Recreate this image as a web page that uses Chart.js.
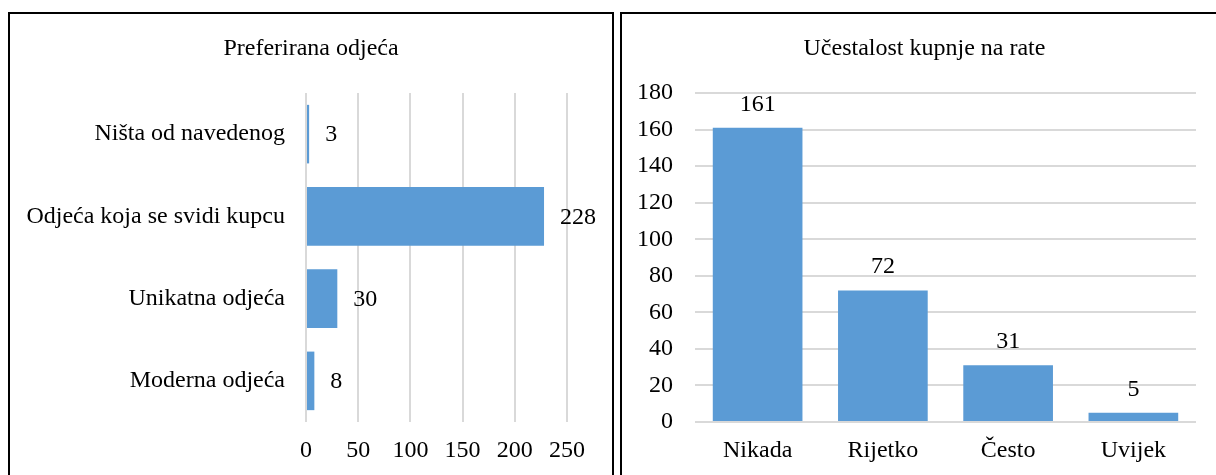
<!DOCTYPE html>
<html>
<head>
<meta charset="utf-8">
<script src="https://cdn.jsdelivr.net/npm/chart.js@4.4.1/dist/chart.umd.min.js"></script>
<style>
  html, body { margin: 0; padding: 0; background: #fff; }
  body { width: 1216px; height: 475px; overflow: hidden; position: relative; font-family: "Liberation Serif", "Times New Roman", serif; }
  .panel { position: absolute; top: 12px; height: 500px; border: 2px solid #000; box-sizing: border-box; background: #fff; }
  #p1 { left: 8px; width: 606px; }
  #p2 { left: 620px; width: 609px; }
  .panel canvas { position: absolute; left: 0; top: 0; }
  .title { position: absolute; left: 0; right: 0; top: 21px; text-align: center; font-size: 24px; line-height: 24px; color: #000; white-space: nowrap; }
</style>
</head>
<body>
<div class="panel" id="p1">
  <canvas id="c1" width="602" height="461"></canvas>
  <div class="title">Preferirana odjeća</div>
</div>
<div class="panel" id="p2">
  <canvas id="c2" width="594" height="461"></canvas>
  <div class="title">Učestalost kupnje na rate</div>
</div>
<script>
// ---- Data ----
const clothingCategories = ['Ništa od navedenog', 'Odjeća koja se svidi kupcu', 'Unikatna odjeća', 'Moderna odjeća'];
const clothingValues = [3, 228, 30, 8];
const clothingTicks = { min: 0, max: 250, step: 50 };

const instalmentCategories = ['Nikada', 'Rijetko', 'Često', 'Uvijek'];
const instalmentValues = [161, 72, 31, 5];
const instalmentTicks = { min: 0, max: 180, step: 20 };

// ---- Styles ----
const FONT = '"Liberation Serif", "Times New Roman", serif';
const BAR = '#5b9bd5';
const GRID = '#d9d9d9';
Chart.defaults.font.family = FONT;
Chart.defaults.font.size = 24;
Chart.defaults.color = '#000';

const valueLabels = {
  id: 'valueLabels',
  afterDatasetsDraw(chart, args, opts) {
    const ctx = chart.ctx;
    const meta = chart.getDatasetMeta(0);
    const data = chart.data.datasets[0].data;
    ctx.save();
    ctx.font = '24px ' + FONT;
    ctx.fillStyle = '#000';
    meta.data.forEach((bar, i) => {
      if (opts.horizontal) {
        ctx.textAlign = 'left';
        ctx.textBaseline = 'middle';
        ctx.fillText(String(data[i]), bar.x + 16, bar.y + 1);
      } else {
        ctx.textAlign = 'center';
        ctx.textBaseline = 'alphabetic';
        ctx.fillText(String(data[i]), bar.x, bar.y - 17);
      }
    });
    ctx.restore();
  }
};

// Left chart: horizontal bars
new Chart(document.getElementById('c1'), {
  type: 'bar',
  data: {
    labels: clothingCategories,
    datasets: [{ data: clothingValues, backgroundColor: BAR, borderWidth: 0, barPercentage: 0.712, categoryPercentage: 1 }]
  },
  options: {
    indexAxis: 'y',
    responsive: false,
    animation: false,
    layout: { padding: { left: 0, right: 45, top: 79, bottom: 0 } },
    plugins: { legend: { display: false }, tooltip: { enabled: false }, title: { display: false }, valueLabels: { horizontal: true } },
    scales: {
      x: {
        min: clothingTicks.min, max: clothingTicks.max,
        ticks: { stepSize: clothingTicks.step, padding: 14, color: '#000' },
        grid: { color: GRID, lineWidth: 2, drawTicks: false },
        border: { display: false },
        afterFit(s) { s.height = 53; }
      },
      y: {
        ticks: { padding: 21, color: '#000' },
        grid: { display: false, drawTicks: false },
        border: { display: false },
        afterFit(s) { s.width = 296; }
      }
    }
  },
  plugins: [valueLabels]
});

// Right chart: vertical bars
new Chart(document.getElementById('c2'), {
  type: 'bar',
  data: {
    labels: instalmentCategories,
    datasets: [{ data: instalmentValues, backgroundColor: BAR, borderWidth: 0, barPercentage: 0.716, categoryPercentage: 1 }]
  },
  options: {
    responsive: false,
    animation: false,
    layout: { padding: { left: 0, right: 20, top: 79, bottom: 0 } },
    plugins: { legend: { display: false }, tooltip: { enabled: false }, title: { display: false }, valueLabels: { horizontal: false } },
    scales: {
      x: {
        ticks: { padding: 14, color: '#000' },
        grid: { display: false, drawTicks: false },
        border: { display: false },
        afterFit(s) { s.height = 53; }
      },
      y: {
        min: instalmentTicks.min, max: instalmentTicks.max,
        ticks: { stepSize: instalmentTicks.step, padding: 22, color: '#000' },
        grid: { color: GRID, lineWidth: 2, drawTicks: false },
        border: { display: false },
        afterFit(s) { s.width = 73; }
      }
    }
  },
  plugins: [valueLabels]
});
</script>
</body>
</html>
